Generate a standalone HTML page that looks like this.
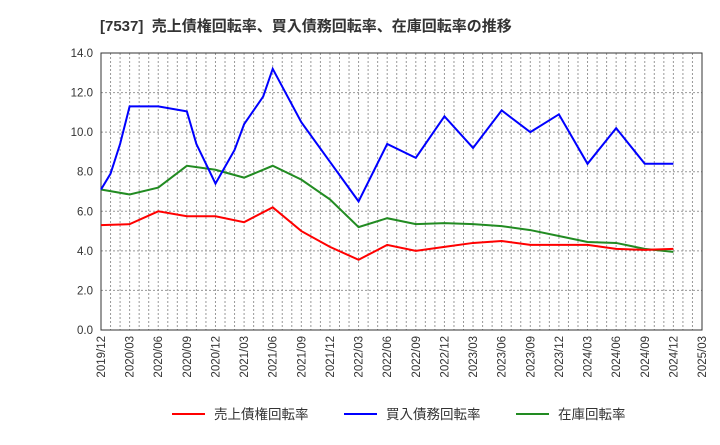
<!DOCTYPE html>
<html><head><meta charset="utf-8"><style>
body{margin:0;background:#fff;font-family:"Liberation Sans","Noto Sans CJK JP",sans-serif;}
</style></head><body>
<svg id="c" width="720" height="440" xmlns="http://www.w3.org/2000/svg" font-family="Liberation Sans, Noto Sans CJK JP, sans-serif">
<text x="100" y="31" font-size="15" font-weight="bold" fill="#333">[7537]&#160; 売上債権回転率、買入債務回転率、在庫回転率の推移</text>
</svg>
<script>
const xLabels=["2019/12","2020/03","2020/06","2020/09","2020/12","2021/03","2021/06","2021/09","2021/12","2022/03","2022/06","2022/09","2022/12","2023/03","2023/06","2023/09","2023/12","2024/03","2024/06","2024/09","2024/12","2025/03"];
const yTicks=[0,2,4,6,8,10,12,14];
const redValues=[5.3,5.35,6.0,5.75,5.75,5.45,6.2,5.0,4.2,3.55,4.3,4.0,4.2,4.4,4.5,4.3,4.3,4.3,4.1,4.05,4.1];
const greenValues=[7.1,6.85,7.2,8.3,8.1,7.7,8.3,7.6,6.6,5.2,5.65,5.35,5.4,5.35,5.25,5.05,4.75,4.45,4.4,4.1,3.95];
const blueMonths=[0,1,2,3,6,9,10,12,14,15,17,18,21,24,27,30,33,36,39,42,45,48,51,54,57,60];
const blueValues=[7.1,7.9,9.4,11.3,11.3,11.05,9.4,7.4,9.1,10.4,11.8,13.2,10.5,8.5,6.5,9.4,8.7,10.8,9.2,11.1,10.0,10.9,8.4,10.2,8.4,8.4];
const L=101,R=702,T=53,B=330,NS="http://www.w3.org/2000/svg";
const svg=document.getElementById('c');
const xm=m=>L+(R-L)*m/63;
const xi=i=>xm(i*3);
const y=v=>B-(B-T)*v/14;
function el(t,a){const e=document.createElementNS(NS,t);for(const k in a)e.setAttribute(k,a[k]);svg.appendChild(e);return e;}
for(let m=1;m<63;m++){const g=el('line',{x1:xm(m),x2:xm(m),y1:T,y2:B,stroke:'#999','stroke-dasharray':'2,2','stroke-width':1});

}
yTicks.forEach(v=>{if(v>0&&v<14){const g=el('line',{x1:L,x2:R,y1:y(v),y2:y(v),stroke:'#999','stroke-dasharray':'2,2'});

}
const t=el('text',{x:L-8,y:y(v)+4,'text-anchor':'end','font-size':11.5,fill:'#333'});t.textContent=v.toFixed(1);

});
const fr=el('rect',{x:L,y:T,width:R-L,height:B-T,fill:'none',stroke:'#333'});


xLabels.forEach((s,i)=>{const t=el('text',{transform:`translate(${xi(i)+4},${B+6}) rotate(-90)`,'text-anchor':'end','font-size':11.5,fill:'#333'});t.textContent=s;

});
function line(pts,c,name){const p=el('polyline',{points:pts.map(p=>p.join(',')).join(' '),fill:'none',stroke:c,'stroke-width':2});

}
line(greenValues.map((v,i)=>[xi(i),y(v)]),'#228B22','inventory-turnover-line');
line(redValues.map((v,i)=>[xi(i),y(v)]),'#FF0000','receivables-turnover-line');
line(blueValues.map((v,i)=>[xm(blueMonths[i]),y(v)]),'#0000FF','payables-turnover-line');
[["売上債権回転率","#FF0000",172],["買入債務回転率","#0000FF",344],["在庫回転率","#228B22",516]].forEach(([n,c,x])=>{
const l=el('line',{x1:x,x2:x+33,y1:414,y2:414,stroke:c,'stroke-width':2});


const t=el('text',{x:x+42,y:419,'font-size':13.5,fill:'#333'});t.textContent=n;

});
</script></body></html>
